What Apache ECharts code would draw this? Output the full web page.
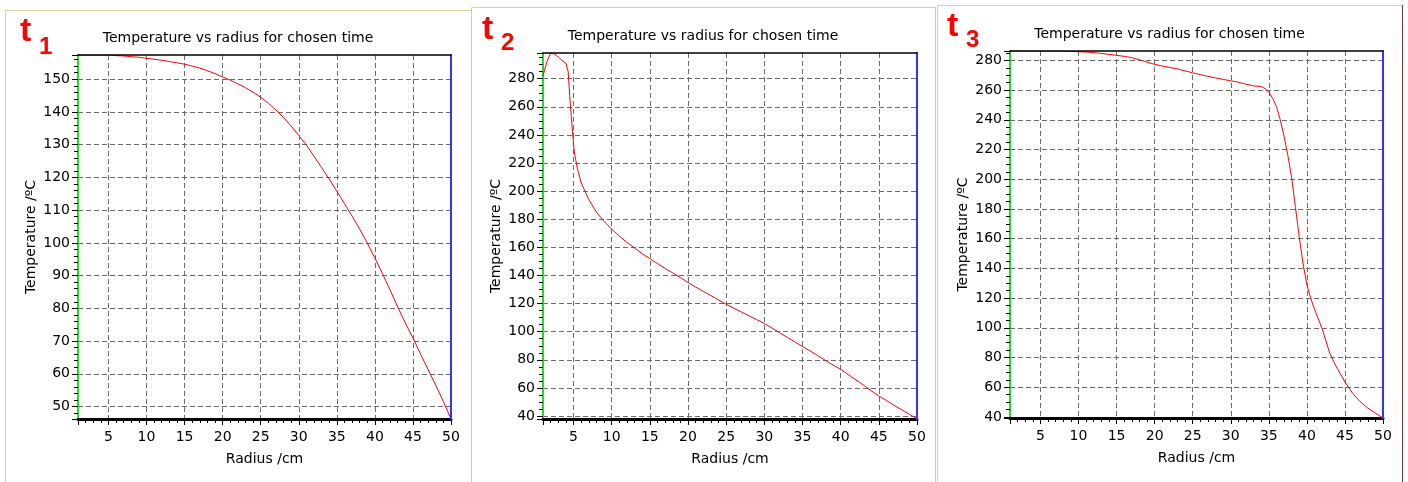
<!DOCTYPE html>
<html><head><meta charset="utf-8">
<script src="https://cdn.jsdelivr.net/npm/echarts@6/dist/echarts.min.js"></script>
<style>html,body{margin:0;padding:0;background:#fff}#c{width:1408px;height:482px}</style>
</head><body><div id="c"></div>
<script>
// ---------- data ----------
const chartTitle = 'Temperature vs radius for chosen time';
const xName = 'Radius /cm';
const yName = 'Temperature /ºC';
const panelLabels = ['1', '2', '3'];
const radiusMin = 1, radiusMax = 50;

const radius1 = [1,2,3,4,5,6,7,8,9,10,11,12,13,14,15,16,17,18,19,20,21,22,23,24,25,26,27,28,29,30,31,32,33,34,35,36,37,38,39,40,41,42,43,44,45,46,47,48,49,50];
const temp1 = [157.4,157.4,157.4,157.4,157.4,157.2,157.1,156.9,156.7,156.4,156.1,155.8,155.4,155.0,154.6,154.0,153.4,152.6,151.7,150.7,149.7,148.6,147.4,146.0,144.5,142.7,140.6,138.3,135.7,132.8,129.9,126.5,123.0,119.5,115.8,112.0,108.2,104.2,100.0,95.4,90.6,85.6,80.4,75.5,71.0,66.0,61.3,56.5,51.5,46.2];

const radius2 = [1,1.5,2,2.5,3,3.5,4,4.3,4.5,4.8,5.1,5.5,6,7,8,9,10,11,12,13,14,15,16,17,18,19,20,21,22,23,24,25,26,27,28,29,30,31,32,33,34,35,36,37,38,39,40,41,42,43,44,45,46,47,48,49,50];
const temp2 = [282,292,298.3,297.5,295.5,293,291,285,268,246,228,216,206,194,185,178.5,173,168,163.5,159.5,155.5,152,148.5,145,141.8,138.5,135,131.8,128.7,125.7,122.6,119.5,116.7,114,111.3,108.6,105.8,102.6,99.3,96,92.7,89.5,86.3,83,79.6,76.3,73.2,69.5,65.7,62,58,54.3,51,47.6,44.5,41.3,37.9];

const radius3 = [1,2,3,4,5,6,7,8,9,10,11,12,13,14,15,16,17,18,19,20,21,22,23,24,25,26,27,28,29,30,31,32,33,34,34.5,35,35.5,36,36.5,37,37.5,38,38.5,39,39.5,40,40.5,41,42,43,43.5,44,45,46,47,48,49,50];
const temp3 = [286.3,286.3,286.3,286.3,286.3,286.3,286.3,286.3,286.0,285.8,285.6,285.2,284.7,284.0,283.4,282.7,281.8,280.4,278.8,277.3,276.2,275.2,274.2,272.9,271.6,270.4,269.2,268.2,267.2,266.2,265.3,264.0,262.8,262.4,261,258.7,254.5,249,240,229,216,201,181,161,143,129,120,112.5,99.5,83,77.5,72.5,63.5,56,50.3,46,42.6,39.3];

const radii = [radius1, radius2, radius3];
const temps = [temp1, temp2, temp3];
const ySplitNumbers = [10, 13, 12];
const yMinorSplits = [5, 4, 4];

// ---------- layout ----------
const FONT = 'DejaVu Sans';
const grids = [
  {left: 78, top: 55, width: 373, height: 364},
  {left: 543, top: 53, width: 374, height: 366},
  {left: 1010, top: 51, width: 373, height: 367}
];
const frames = [
  {x: 5.5, y: 10.5, w: 466, h: 480},
  {x: 471.5, y: 7.5, w: 464, h: 480},
  {x: 937.5, y: 5.5, w: 465, h: 480}
];
const tPos = [
  {tx: 20, ty: 31.5, sx: 39, sy: 47},
  {tx: 482, ty: 29.5, sx: 501, sy: 43},
  {tx: 947, ty: 26.5, sx: 966, sy: 40}
];

const xAxes = [], yAxes = [], series = [], titles = [], graphics = [];
const labelStyle = {color: '#000', fontSize: 14, fontFamily: FONT};

for (let i = 0; i < 3; i++) {
  xAxes.push({
    gridIndex: i, type: 'value', min: radiusMin, max: radiusMax, splitNumber: 10, position: 'bottom',
    axisLine: {show: true, onZero: false, lineStyle: {color: '#000', width: 3}},
    axisTick: {show: true, length: 6, lineStyle: {color: '#000'}},
    minorTick: {show: true, splitNumber: 5, length: 4, lineStyle: {color: '#000'}},
    axisLabel: Object.assign({showMinLabel: false, showMaxLabel: true, margin: 11}, labelStyle),
    splitLine: {show: true, showMinLine: false, showMaxLine: false, lineStyle: {color: '#6a6a6a', width: 1, type: [5, 3]}},
    name: xName, nameLocation: 'middle', nameGap: 33, nameTextStyle: labelStyle, z: 1
  });
  xAxes.push({
    gridIndex: i, type: 'value', min: radiusMin, max: radiusMax, position: 'top',
    axisLine: {show: true, onZero: false, lineStyle: {color: '#000', width: 1.5}},
    axisTick: {show: false}, axisLabel: {show: false}, splitLine: {show: false}, z: 5
  });
  yAxes.push({
    gridIndex: i, type: 'value', min: 'dataMin', max: 'dataMax', splitNumber: ySplitNumbers[i], position: 'left',
    axisLine: {show: true, onZero: false, lineStyle: {color: '#22dd22', width: 2}},
    axisTick: {show: true, length: 6, lineStyle: {color: '#000'}},
    minorTick: {show: true, splitNumber: yMinorSplits[i], length: 4, lineStyle: {color: '#000'}},
    axisLabel: Object.assign({showMinLabel: false, showMaxLabel: false, margin: 8}, labelStyle),
    splitLine: {show: true, showMinLine: false, showMaxLine: false, lineStyle: {color: '#6a6a6a', width: 1, type: [5, 3]}},
    name: yName, nameLocation: 'middle', nameRotate: 90, nameGap: 40, nameTextStyle: labelStyle, z: 0
  });
  yAxes.push({
    gridIndex: i, type: 'value', min: 'dataMin', max: 'dataMax', position: 'right',
    axisLine: {show: true, onZero: false, lineStyle: {color: '#3333ff', width: 2}},
    axisTick: {show: false}, axisLabel: {show: false}, splitLine: {show: false}, z: 5
  });
  series.push({
    type: 'line', xAxisIndex: 2 * i, yAxisIndex: 2 * i,
    data: radii[i].map((r, k) => [r, temps[i][k]]),
    showSymbol: false, symbol: 'none', lineStyle: {color: '#ff0000', width: 1}, z: 3, silent: true
  });
  const f = frames[i];
  titles.push({
    text: chartTitle, left: f.x - 0.5 + f.w / 2, top: 31 - (i === 1 ? 2 : i === 2 ? 4 : 0), textAlign: 'center', padding: 0,
    textStyle: {color: '#000', fontSize: 14, fontWeight: 'normal', fontFamily: FONT}
  });
  graphics.push({
    type: 'rect', shape: {x: f.x, y: f.y, width: f.w, height: f.h}, silent: true,
    style: {fill: 'none', stroke: '#d6cfa2', lineWidth: 1}
  });
  const t = tPos[i];
  graphics.push({
    type: 'text', x: t.tx, y: t.ty, silent: true,
    style: {text: 't', fill: '#ff0000', font: 'bold 34px "Liberation Sans"', verticalAlign: 'middle', align: 'left'}
  });
  graphics.push({
    type: 'text', x: t.sx, y: t.sy, silent: true,
    style: {text: panelLabels[i], fill: '#ff0000', font: 'bold 24px "Liberation Sans"', verticalAlign: 'middle', align: 'left'}
  });
}
graphics.push({
  type: 'line', shape: {x1: 1402.5, y1: 5, x2: 1402.5, y2: 482}, silent: true,
  style: {stroke: '#7a3434', lineWidth: 1}
});

const chart = echarts.init(document.getElementById('c'), null, {renderer: 'canvas'});
chart.setOption({
  backgroundColor: '#fff',
  animation: false,
  title: titles,
  grid: grids,
  xAxis: xAxes,
  yAxis: yAxes,
  series: series,
  graphic: graphics
});
</script></body></html>
